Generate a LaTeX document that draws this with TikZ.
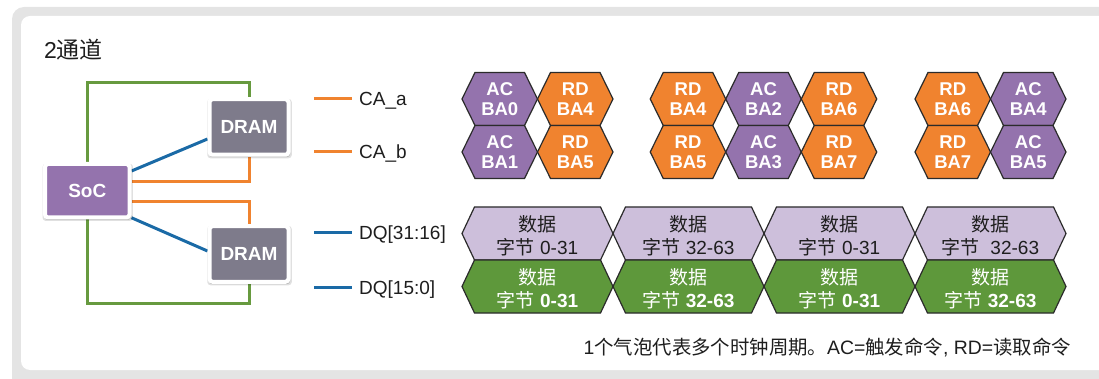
\documentclass[tikz,border=0pt]{standalone}
\usepackage{fontspec}
\setmainfont{Liberation Sans}
\newfontfamily\cjk{Noto Sans CJK SC}
\usetikzlibrary{shadows,calc}
\definecolor{socpurple}{HTML}{9473AD}
\definecolor{dramgray}{HTML}{7E7B8B}
\definecolor{orng}{HTML}{F0832F}
\definecolor{wireblue}{HTML}{1A6AA6}
\definecolor{wiregreen}{HTML}{679A3F}
\definecolor{lilac}{HTML}{CDBFDB}
\definecolor{datagreen}{HTML}{5E983B}
\definecolor{framegray}{HTML}{E4E4E4}
\definecolor{edge}{HTML}{2B2B2B}
\definecolor{txt}{HTML}{1E1E1E}
\pgfdeclarelayer{back}
\pgfdeclarelayer{wires}
\pgfsetlayers{back,wires,main}
\tikzset{
  chip/.style={draw=white, line width=4pt, rounded corners=3pt, text=white,
    font=\bfseries\fontsize{19}{19}\selectfont, inner sep=0,
    drop shadow={shadow scale=1.07, shadow xshift=0.5pt, shadow yshift=-1.5pt, opacity=0.12, fill=black},
    drop shadow={shadow scale=1.03, shadow xshift=0.5pt, shadow yshift=-1.5pt, opacity=0.18, fill=black}},
  soc/.style={chip, fill=socpurple, minimum width=84.5pt, minimum height=53.5pt},
  dram/.style={chip, fill=dramgray, minimum width=79pt, minimum height=55.5pt},
  wire/.style={line width=3pt},
  legend/.style={font=\fontsize{19}{19}\selectfont, text=txt, anchor=base west, inner sep=0},
  hexlabel/.style={align=center, inner sep=0, font=\bfseries\fontsize{18.5}{19.5}\selectfont, text=white},
  datalabel/.style={align=center, inner sep=0, font=\fontsize{19}{23.5}\selectfont},
  hexshape/.style={draw=edge, line width=1.2pt, line join=miter},
}
% cx, cy, width, height, depth, style
\newcommand\hexpath[6]{%
  \path[hexshape,#6] (#1-#3/2,#2) -- (#1-#3/2+#5,#2-#4/2) -- (#1+#3/2-#5,#2-#4/2)
    -- (#1+#3/2,#2) -- (#1+#3/2-#5,#2+#4/2) -- (#1-#3/2+#5,#2+#4/2) -- cycle;}
% name, cx, cy, fill, text
\newcommand\cmdhex[5]{%
  \hexpath{#2}{#3}{75.5}{53}{13}{fill=#4}%
  \node[hexlabel] (#1) at (#2,#3) {#5};}
% name, cx, cy, fill, textcolor, text
\newcommand\datahex[6]{%
  \hexpath{#2}{#3}{151}{53}{12.5}{fill=#4}%
  \node[datalabel, text=#5] (#1) at (#2,#3+2.5) {#6};}
\begin{document}
\begin{tikzpicture}[x=1pt,y=-1pt]
\useasboundingbox (0,0) rectangle (1099,379);
\clip (0,0) rectangle (1099,379);
\begin{pgfonlayer}{back}
  \fill[framegray, rounded corners=12pt] (12,7) rectangle (1130,400);
  \fill[white, rounded corners=9pt] (21,16) rectangle (1130,370);
\end{pgfonlayer}

\node[anchor=west, inner sep=0, text=txt, font=\fontsize{23}{23}\selectfont] (title) at (44,50) {2{\cjk 通道}};

% chips
\node[soc] (soc) at (87.25,190.75) {SoC};
\node[dram] (d1) at (249,127) {DRAM};
\node[dram] (d2) at (249,254) {DRAM};

\begin{pgfonlayer}{wires}
  \draw[wire,wiregreen] (soc.north) -- (soc.north |- 0,83) -- (d1.north |- 0,83) -- (d1.north);
  \draw[wire,wiregreen] (soc.south) -- (soc.south |- 0,303) -- (d2.south |- 0,303) -- (d2.south);
  \draw[wire,wireblue] ([yshift=19.75pt]soc.east) -- ([yshift=-12pt]d1.west);
  \draw[wire,wireblue] ([yshift=-27pt]soc.east) -- ([yshift=3pt]d2.west);
  \draw[wire,orng] ([yshift=8.75pt]soc.east) -| (d1.south);
  \draw[wire,orng] ([yshift=-11.25pt]soc.east) -| (d2.north);
\end{pgfonlayer}

% legend
\node[legend] (caa) at (359,106) {CA\_a};
\node[legend] (cab) at (359,159) {CA\_b};
\node[legend] (dqh) at (359,240) {DQ[31:16]};
\node[legend] (dql) at (359,294) {DQ[15:0]};
\coordinate (caaS) at (314,99);   \coordinate (caaE) at (352,99);
\coordinate (cabS) at (314,152);  \coordinate (cabE) at (352,152);
\coordinate (dqhS) at (314,233);  \coordinate (dqhE) at (352,233);
\coordinate (dqlS) at (314,287);  \coordinate (dqlE) at (352,287);
\draw[wire,orng] (caaS) -- (caaE);
\draw[wire,orng] (cabS) -- (cabE);
\draw[wire,wireblue] (dqhS) -- (dqhE);
\draw[wire,wireblue] (dqlS) -- (dqlE);

% command bubbles
\cmdhex{a1}{499.75}{99}{socpurple}{AC\\BA0}
\cmdhex{a2}{575.25}{99}{orng}{RD\\BA4}
\cmdhex{b1}{499.75}{152}{socpurple}{AC\\BA1}
\cmdhex{b2}{575.25}{152}{orng}{RD\\BA5}

\cmdhex{a3}{688}{99}{orng}{RD\\BA4}
\cmdhex{a4}{763.5}{99}{socpurple}{AC\\BA2}
\cmdhex{a5}{839}{99}{orng}{RD\\BA6}
\cmdhex{b3}{688}{152}{orng}{RD\\BA5}
\cmdhex{b4}{763.5}{152}{socpurple}{AC\\BA3}
\cmdhex{b5}{839}{152}{orng}{RD\\BA7}

\cmdhex{a6}{952.75}{99}{orng}{RD\\BA6}
\cmdhex{a7}{1028.25}{99}{socpurple}{AC\\BA4}
\cmdhex{b6}{952.75}{152}{orng}{RD\\BA7}
\cmdhex{b7}{1028.25}{152}{socpurple}{AC\\BA5}

% data bubbles
\datahex{u1}{537.5}{233.5}{lilac}{txt}{{\cjk 数据}\\{\cjk 字节} 0-31}
\datahex{u2}{688.5}{233.5}{lilac}{txt}{{\cjk 数据}\\{\cjk 字节} 32-63}
\datahex{u3}{839.5}{233.5}{lilac}{txt}{{\cjk 数据}\\{\cjk 字节} 0-31}
\datahex{u4}{990.5}{233.5}{lilac}{txt}{{\cjk 数据}\\{\cjk 字节}\ \ 32-63}
\datahex{l1}{537.5}{286.5}{datagreen}{white}{{\cjk 数据}\\{\cjk 字节} \textbf{0-31}}
\datahex{l2}{688.5}{286.5}{datagreen}{white}{{\cjk 数据}\\{\cjk 字节} \textbf{32-63}}
\datahex{l3}{839.5}{286.5}{datagreen}{white}{{\cjk 数据}\\{\cjk 字节} \textbf{0-31}}
\datahex{l4}{990.5}{286.5}{datagreen}{white}{{\cjk 数据}\\{\cjk 字节} \textbf{32-63}}

\node[anchor=east, inner sep=0, text=txt, font=\fontsize{19.4}{19.4}\selectfont] (note) at (1071,347)
  {1{\cjk 个气泡代表多个时钟周期。}AC={\cjk 触发命令}, RD={\cjk 读取命令}};
\end{tikzpicture}
\end{document}
